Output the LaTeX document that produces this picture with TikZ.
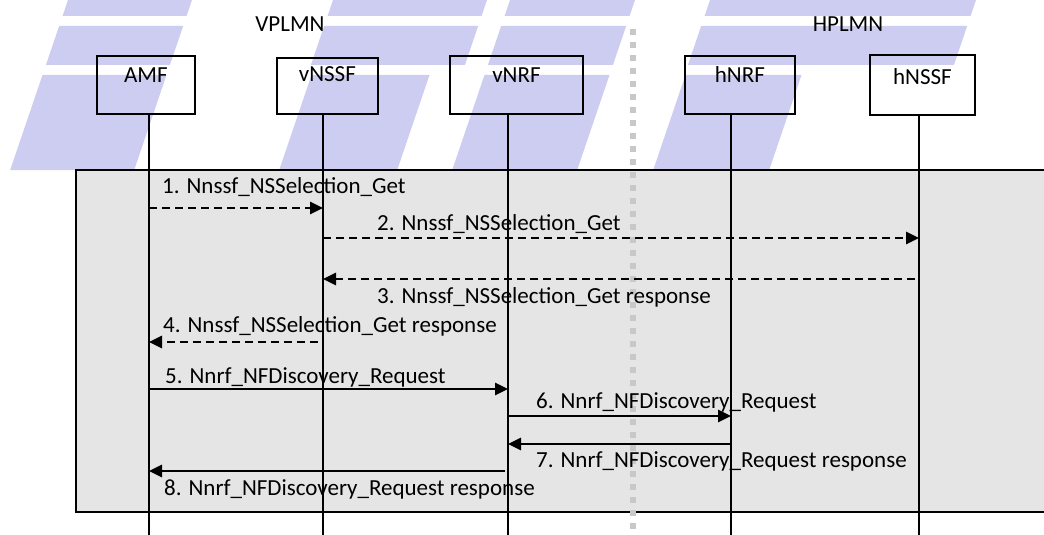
\documentclass[tikz,border=0pt]{standalone}
\usepackage{fontspec}
\setmainfont{Carlito}
\usetikzlibrary{arrows.meta}
\definecolor{wmblue}{RGB}{205,205,241}
\definecolor{pnlgrey}{RGB}{229,229,229}
\definecolor{sepgrey}{RGB}{200,200,200}
\tikzset{
  nf/.style={draw,line width=1.8pt,inner sep=0pt,anchor=north west,text height=27pt,text depth=31pt},
  life/.style={line width=1.3pt},
  req/.style={->,line width=2.6pt},
  reqd/.style={req,dash pattern=on 8pt off 5pt},
  lbl/.style={anchor=base west,inner sep=0pt},
}

\begin{document}
\begin{tikzpicture}[x=1pt,y=-1pt,>={Triangle[length=13pt,width=12pt]},font=\fontsize{23}{27}\selectfont]
\useasboundingbox (0,0) rectangle (1044,535);
\clip (0,0) rectangle (1044,535);
% background mark
\begin{scope}[xslant=0.34]
  \foreach \ya/\yb in {-5/16,26/65,75/170}{
    \fill[wmblue] (68,\ya) -- (192,\ya) -- (192,\yb) -- (68,\yb) -- cycle;
    \fill[wmblue] (510,\ya) -- (635,\ya) -- (635,\yb) -- (510,\yb) -- cycle;
  }
  \foreach \ya/\yb in {-5/16,26/65}{
    \fill[wmblue] (333,\ya) -- (487,\ya) -- (487,\yb) -- (333,\yb) -- cycle;
    \fill[wmblue] (710,\ya) -- (976,\ya) -- (976,\yb) -- (710,\yb) -- cycle;
  }
  \fill[wmblue] (337,75) -- (455,75) -- (455,170) -- (337,170) -- cycle;
  \fill[wmblue] (711,75) -- (827,75) -- (827,170) -- (711,170) -- cycle;
\end{scope}
% panel and border between networks
\draw[fill=pnlgrey,line width=1.8pt] (76,170) rectangle (1060,512);
\draw[sepgrey,line width=6.5pt,dash pattern=on 6pt off 7pt] (633,29) -- (633,540);
% network labels
\node[anchor=base] (vp) at (290,32) {VPLMN};
\node[anchor=base] (hp) at (848,32) {HPLMN};
% network functions
\node[nf,minimum width=98pt] (amf) at (96,55) {AMF};
\node[nf,minimum width=101pt,text height=24pt,text depth=32pt] (vnssf) at (276,57) {vNSSF};
\node[nf,minimum width=133pt] (vnrf) at (449,55) {vNRF};
\node[nf,minimum width=110pt] (hnrf) at (684,55) {hNRF};
\node[nf,minimum width=105pt,text height=30pt,text depth=30pt] (hnssf) at (869,54) {hNSSF};
% lifelines
\coordinate (la) at (149,540);
\coordinate (lvs) at (323,540);
\coordinate (lvr) at (508,540);
\coordinate (lhr) at (731,540);
\coordinate (lhs) at (919,540);
\draw[life] (amf.south -| la) -- (la);
\draw[life] (vnssf.south -| lvs) -- (lvs);
\draw[life] (vnrf.south -| lvr) -- (lvr);
\draw[life] (hnrf.south -| lhr) -- (lhr);
\draw[life] (hnssf.south -| lhs) -- (lhs);
% messages
\draw[reqd] (la |- 0,208) -- (lvs |- 0,208);
\draw[reqd] (lvs |- 0,238) -- (lhs |- 0,238);
\draw[reqd,shorten <=4pt] (lhs |- 0,279) -- (lvs |- 0,279);
\draw[reqd,shorten <=5pt] (lvs |- 0,342) -- (la |- 0,342);
\draw[req] (la |- 0,389) -- (lvr |- 0,389);
\draw[req] (lvr |- 0,416) -- (lhr |- 0,416);
\draw[req] (lhr |- 0,444) -- (lvr |- 0,444);
\draw[req,shorten <=3pt] (lvr |- 0,471) -- (la |- 0,471);
\node[lbl] (m1) at (162,193) {1. Nnssf\_NSSelection\_Get};
\node[lbl] (m2) at (377,230) {2. Nnssf\_NSSelection\_Get};
\node[lbl] (m3) at (377,303) {3. Nnssf\_NSSelection\_Get response};
\node[lbl] (m4) at (163,332) {4. Nnssf\_NSSelection\_Get response};
\node[lbl] (m5) at (165,383) {5. Nnrf\_NFDiscovery\_Request};
\node[lbl] (m6) at (536,408) {6. Nnrf\_NFDiscovery\_Request};
\node[lbl] (m7) at (536,467) {7. Nnrf\_NFDiscovery\_Request response};
\node[lbl] (m8) at (164,495) {8. Nnrf\_NFDiscovery\_Request response};
\end{tikzpicture}
\end{document}
